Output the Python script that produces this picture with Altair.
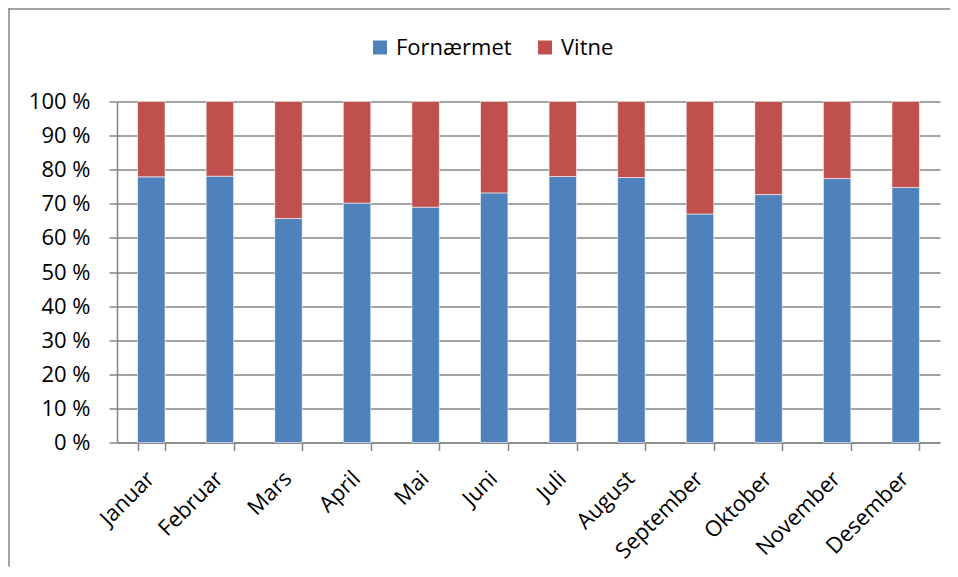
import altair as alt
import pandas as pd

months = ["Januar", "Februar", "Mars", "April", "Mai", "Juni", "Juli",
          "August", "September", "Oktober", "November", "Desember"]
fornaermet_pct = [77.9, 78.1, 65.7, 70.2, 69.0, 73.2, 78.0, 77.7, 67.0, 72.7, 77.4, 74.8]
vitne_pct = [22.1, 21.9, 34.3, 29.8, 31.0, 26.8, 22.0, 22.3, 33.0, 27.3, 22.6, 25.2]
series = ["Fornærmet", "Vitne"]
colors = ["#4F81BD", "#C0504D"]
y_ticks = list(range(0, 101, 10))

rows = []
for m, f, v in zip(months, fornaermet_pct, vitne_pct):
    rows.append({"month": m, "serie": series[0], "value": f, "ord": 0})
    rows.append({"month": m, "serie": series[1], "value": v, "ord": 1})
df = pd.DataFrame(rows)

W, H = 823, 341
FONT = "Open Sans"
GRAY = "#868686"
PAD_BOTTOM = 124
PAD_RIGHT = 10

bars = alt.Chart(df).mark_bar(stroke="white", strokeWidth=0.8, strokeOpacity=0.7).encode(
    x=alt.X("month:N", sort=months,
            scale=alt.Scale(paddingInner=0.6, paddingOuter=0.3),
            axis=alt.Axis(title=None, labelAngle=-45, labelFontSize=22, labelFont=FONT,
                          labelColor="black", tickBand="extent", ticks=True, tickSize=8,
                          tickColor=GRAY, tickWidth=1.5, domainColor=GRAY, domainWidth=1.5,
                          labelPadding=17, labelOffset=-8, grid=False)),
    y=alt.Y("value:Q", stack="zero", scale=alt.Scale(domain=[0, 100], nice=False),
            axis=alt.Axis(title=None, values=y_ticks, labelExpr="datum.value + ' %'",
                          labelFontSize=22, labelFont=FONT, labelColor="black",
                          tickSize=8, tickColor=GRAY, tickWidth=1.5,
                          domainColor=GRAY, domainWidth=1.5, labelPadding=19,
                          grid=True, gridColor=GRAY, gridWidth=1.5)),
    color=alt.Color("serie:N", scale=alt.Scale(domain=series, range=colors),
                    legend=alt.Legend(title=None, orient="none", legendX=252, legendY=-65,
                                      direction="horizontal", symbolType="square",
                                      symbolSize=196, symbolStrokeWidth=0,
                                      labelFontSize=22, labelFont=FONT, labelColor="black",
                                      labelOffset=5, columnPadding=22)),
    order=alt.Order("ord:Q"),
)

# decorative outer frame (only left and top edges are visible in the reference)
frame_df = pd.DataFrame({"a": [0]})
frame_left = alt.Chart(frame_df).mark_rect(color=GRAY, strokeWidth=0).encode(
    x=alt.value(-108.75), x2=alt.value(-107.25), y=alt.value(-93.25), y2=alt.value(H + PAD_BOTTOM))
frame_top = alt.Chart(frame_df).mark_rect(color=GRAY, strokeWidth=0).encode(
    x=alt.value(-108.75), x2=alt.value(W + PAD_RIGHT), y=alt.value(-93.25), y2=alt.value(-91.75))

chart = alt.layer(frame_left, frame_top, bars).properties(
    width=W, height=H,
    autosize=alt.AutoSizeParams(type="none"),
    padding={"left": 109, "top": 93.5, "right": PAD_RIGHT, "bottom": PAD_BOTTOM},
).configure_view(stroke=None)

chart.save("out.html", embed_options={"renderer": "svg", "actions": False})
